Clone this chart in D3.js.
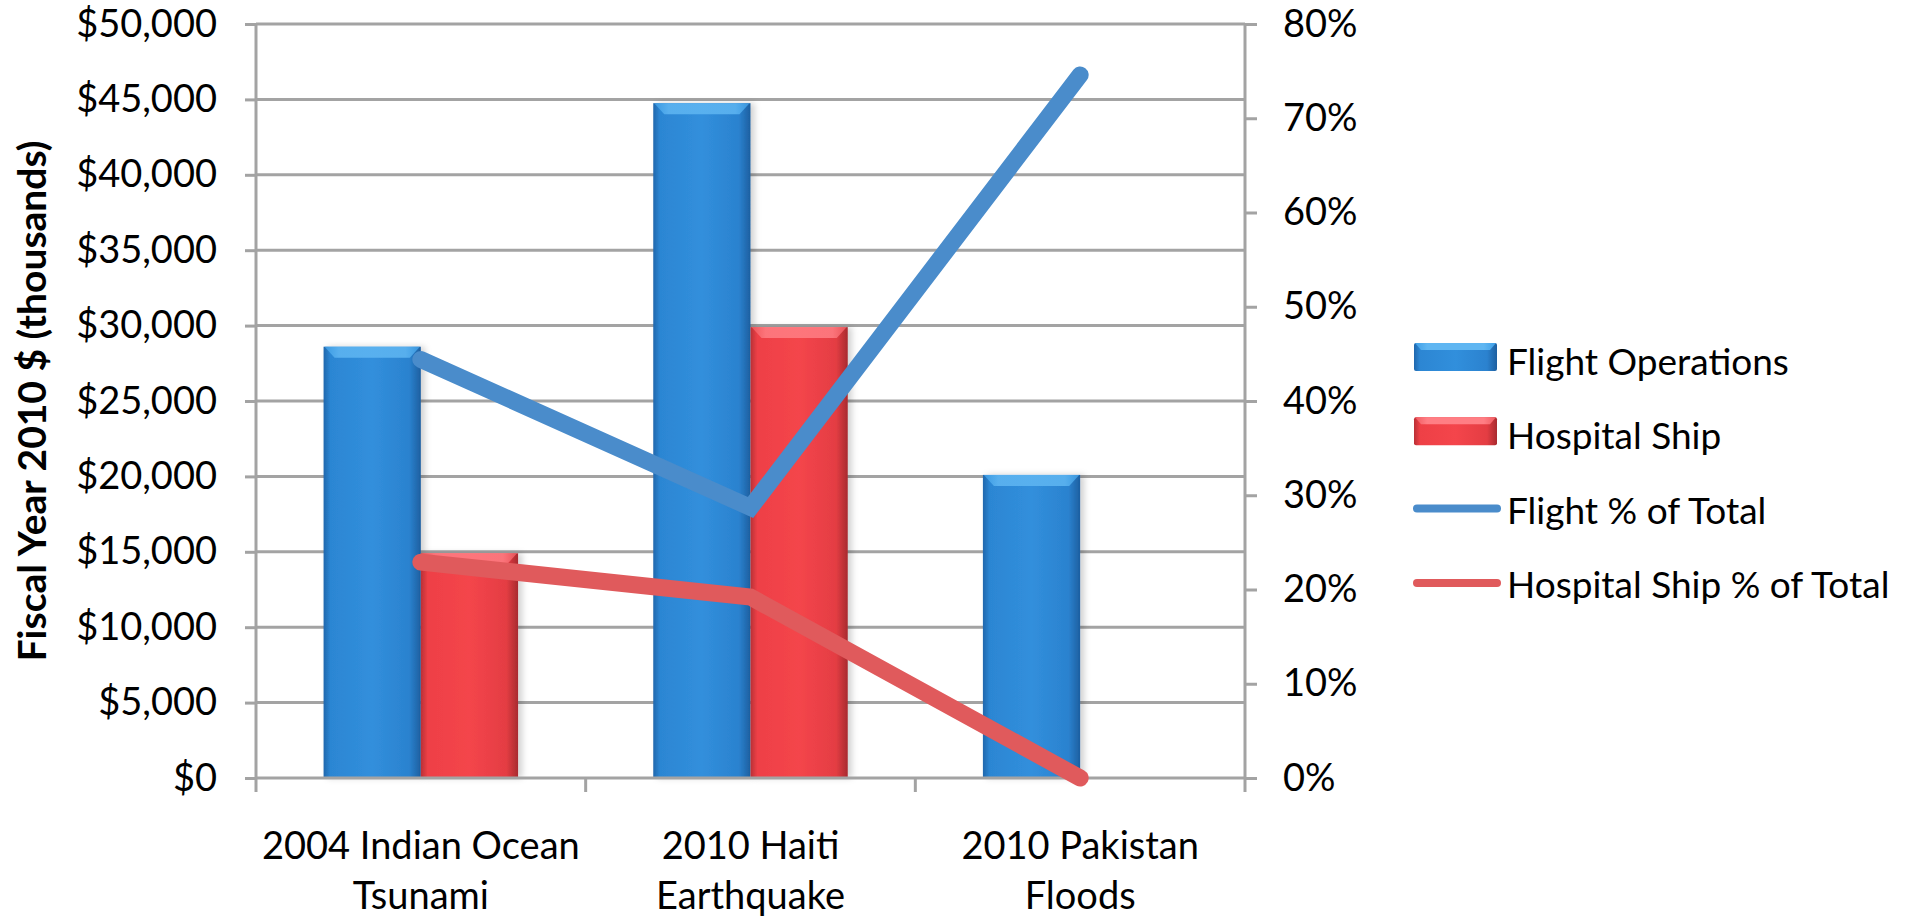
<!DOCTYPE html>
<html>
<head>
<meta charset="utf-8">
<script src="https://cdn.jsdelivr.net/npm/d3@7"></script>
<style>
  body { margin: 0; background: #fff; }
  svg { display: block; }
  text { font-family: Lato, "Open Sans", sans-serif; fill: #000; }
</style>
</head>
<body>
<svg id="chart" width="1916" height="916"></svg>
<script>
// data
var categories = [["2004 Indian Ocean", "Tsunami"], ["2010 Haiti", "Earthquake"], ["2010 Pakistan", "Floods"]];
var flightOps = [28600, 44750, 20100];      // $ thousands
var hospitalShip = [14900, 29900, 0];
var flightPct = [0.444, 0.287, 0.746];
var hospitalPct = [0.229, 0.192, 0.0];
var leftTicks = [0, 5000, 10000, 15000, 20000, 25000, 30000, 35000, 40000, 45000, 50000];
var rightTicks = [0, 0.1, 0.2, 0.3, 0.4, 0.5, 0.6, 0.7, 0.8];
var legendNames = ["Flight Operations", "Hospital Ship", "Flight % of Total", "Hospital Ship % of Total"];

var svg = d3.select("#chart");
var plotL = 256, plotR = 1245, plotT = 24, plotB = 778;
var gridColor = "#a3a3a3";
var blueLine = "#4a8ccb", redLine = "#e05a5c";
var fontSize = 38;

var catKeys = categories.map(function (c) { return c.join(" "); });

var x0 = d3.scaleBand().domain(catKeys).range([plotL, plotR]).paddingInner(0.41).paddingOuter(0.205);
var x1 = d3.scaleBand().domain(["flight", "hospital"]).range([0, x0.bandwidth()]);
var y = d3.scaleLinear().domain([0, 50000]).range([plotB, plotT]);
var y2 = d3.scaleLinear().domain([0, 0.8]).range([plotB, plotT]);

// gradients for the bevelled bars
var defs = svg.append("defs");
function barGradient(id, stops) {
    var g = defs.append("linearGradient").attr("id", id).attr("x1", "0").attr("x2", "1").attr("y1", "0").attr("y2", "0");
    stops.forEach(function (s) {
        g.append("stop").attr("offset", s[0]).attr("stop-color", s[1]);
    });
}
barGradient("blueBar", [["0%", "#1f67ad"], ["7%", "#2c86d3"], ["50%", "#318fdc"], ["88%", "#2b82cf"], ["100%", "#1d5fa0"]]);
barGradient("redBar", [["0%", "#b93036"], ["7%", "#ee4046"], ["50%", "#f4454b"], ["88%", "#e43d43"], ["100%", "#a82a2f"]]);
barGradient("blueTop", [["0%", "#3e9ee6"], ["15%", "#5fb6f2"], ["85%", "#5fb6f2"], ["100%", "#3e9ee6"]]);
barGradient("redTop", [["0%", "#f05a60"], ["15%", "#ff7e84"], ["85%", "#ff7e84"], ["100%", "#f05a60"]]);

var shadow = defs.append("filter").attr("id", "shadow").attr("x", "-20%").attr("y", "-5%").attr("width", "140%").attr("height", "110%");
shadow.append("feDropShadow").attr("dx", 4).attr("dy", 0).attr("stdDeviation", 3).attr("flood-color", "#000").attr("flood-opacity", 0.18);

// gridlines
svg.append("g")
    .selectAll("line")
    .data(leftTicks.slice(1))
    .enter().append("line")
    .attr("x1", plotL).attr("x2", plotR)
    .attr("y1", function (d) { return y(d); })
    .attr("y2", function (d) { return y(d); })
    .attr("stroke", gridColor).attr("stroke-width", 3);

// left axis
var yAxis = svg.append("g")
    .attr("transform", "translate(" + plotL + ",0)")
    .call(d3.axisLeft(y).tickValues(leftTicks).tickSize(11).tickPadding(28)
        .tickFormat(function (d) { return "$" + d3.format(",")(d); }));

// right axis
var y2Axis = svg.append("g")
    .attr("transform", "translate(" + plotR + ",0)")
    .call(d3.axisRight(y2).tickValues(rightTicks).tickSize(12).tickPadding(26)
        .tickFormat(d3.format(".0%")));

[yAxis, y2Axis].forEach(function (a) {
    a.select(".domain").attr("stroke", gridColor).attr("stroke-width", 3)
        .attr("d", "M0," + (plotT - 1) + "V" + (plotB + 1));
    a.selectAll(".tick line").attr("stroke", gridColor).attr("stroke-width", 3);
    a.selectAll(".tick text").attr("font-size", fontSize).style("font-family", "Lato, sans-serif").attr("fill", "#000");
});

// bars
var groups = svg.append("g")
    .selectAll("g")
    .data(catKeys)
    .enter().append("g")
    .attr("transform", function (d) { return "translate(" + x0(d) + ",0)"; });

var bars = groups.selectAll("g.bar")
    .data(function (d, i) {
        return [
            { key: "flight", value: flightOps[i] },
            { key: "hospital", value: hospitalShip[i] }
        ].filter(function (b) { return b.value > 0; });
    })
    .enter().append("g").attr("class", "bar");

bars.append("rect")
    .attr("x", function (d) { return x1(d.key); })
    .attr("y", function (d) { return y(d.value); })
    .attr("width", x1.bandwidth())
    .attr("height", function (d) { return plotB - y(d.value); })
    .attr("fill", function (d) { return d.key === "flight" ? "url(#blueBar)" : "url(#redBar)"; })
    .attr("filter", "url(#shadow)");

bars.append("polygon")
    .attr("points", function (d) {
        var bx = x1(d.key), bw = x1.bandwidth(), by = y(d.value), b = 11;
        return [[bx + 1, by], [bx + bw - 1, by], [bx + bw - b, by + b], [bx + b, by + b]].join(" ");
    })
    .attr("fill", function (d) { return d.key === "flight" ? "url(#blueTop)" : "url(#redTop)"; })
    .attr("opacity", 0.85);

// bottom axis
svg.append("line")
    .attr("x1", plotL).attr("x2", plotR)
    .attr("y1", plotB).attr("y2", plotB)
    .attr("stroke", gridColor).attr("stroke-width", 3);

var catEdges = catKeys.map(function (d, i) { return plotL + i * x0.step(); }).concat([plotR]);
svg.append("g").selectAll("line")
    .data(catEdges)
    .enter().append("line")
    .attr("x1", function (d) { return d; }).attr("x2", function (d) { return d; })
    .attr("y1", plotB).attr("y2", plotB + 14)
    .attr("stroke", gridColor).attr("stroke-width", 3);

// category labels
var catLabels = svg.append("g").selectAll("text")
    .data(categories)
    .enter().append("text")
    .attr("text-anchor", "middle")
    .attr("font-size", fontSize);
catLabels.each(function (d, i) {
    var cx = x0(catKeys[i]) + x0.bandwidth() / 2;
    var t = d3.select(this);
    t.append("tspan").attr("x", cx).attr("y", 859).text(d[0]);
    t.append("tspan").attr("x", cx).attr("y", 909).text(d[1]);
});

// percentage lines
var line = d3.line()
    .x(function (d, i) { return x0(catKeys[i]) + x0.bandwidth() / 2; })
    .y(function (d) { return y2(d); });

svg.append("path")
    .datum(hospitalPct)
    .attr("d", line)
    .attr("fill", "none")
    .attr("stroke", redLine)
    .attr("stroke-width", 17)
    .attr("stroke-linecap", "round");

svg.append("path")
    .datum(flightPct)
    .attr("d", line)
    .attr("fill", "none")
    .attr("stroke", blueLine)
    .attr("stroke-width", 17)
    .attr("stroke-linecap", "round");

// y axis title
svg.append("text")
    .attr("transform", "translate(31," + ((plotT + plotB) / 2) + ") rotate(-90)")
    .attr("text-anchor", "middle")
    .attr("dominant-baseline", "central")
    .attr("font-size", 39)
    .attr("font-weight", "bold")
    .text("Fiscal Year 2010 $ (thousands)");

// legend
var legend = svg.append("g").attr("transform", "translate(1414,375)");
var legItems = legend.selectAll("g")
    .data(legendNames)
    .enter().append("g")
    .attr("transform", function (d, i) { return "translate(0," + (i * 74.3) + ")"; });

legItems.each(function (d, i) {
    var g = d3.select(this);
    if (i < 2) {
        g.append("rect")
            .attr("x", 0).attr("y", -32).attr("width", 83).attr("height", 28)
            .attr("rx", 2)
            .attr("fill", i === 0 ? "url(#blueBar)" : "url(#redBar)");
        g.append("polygon")
            .attr("points", "1,-32 82,-32 76,-25 7,-25")
            .attr("fill", i === 0 ? "url(#blueTop)" : "url(#redTop)");
    } else {
        g.append("line")
            .attr("x1", 3).attr("x2", 83)
            .attr("y1", -15).attr("y2", -15)
            .attr("stroke", i === 2 ? blueLine : redLine)
            .attr("stroke-width", 8)
            .attr("stroke-linecap", "round");
    }
    g.append("text")
        .attr("x", 93).attr("y", 0)
        .attr("font-size", 37)
        .text(d);
});
</script>
</body>
</html>
